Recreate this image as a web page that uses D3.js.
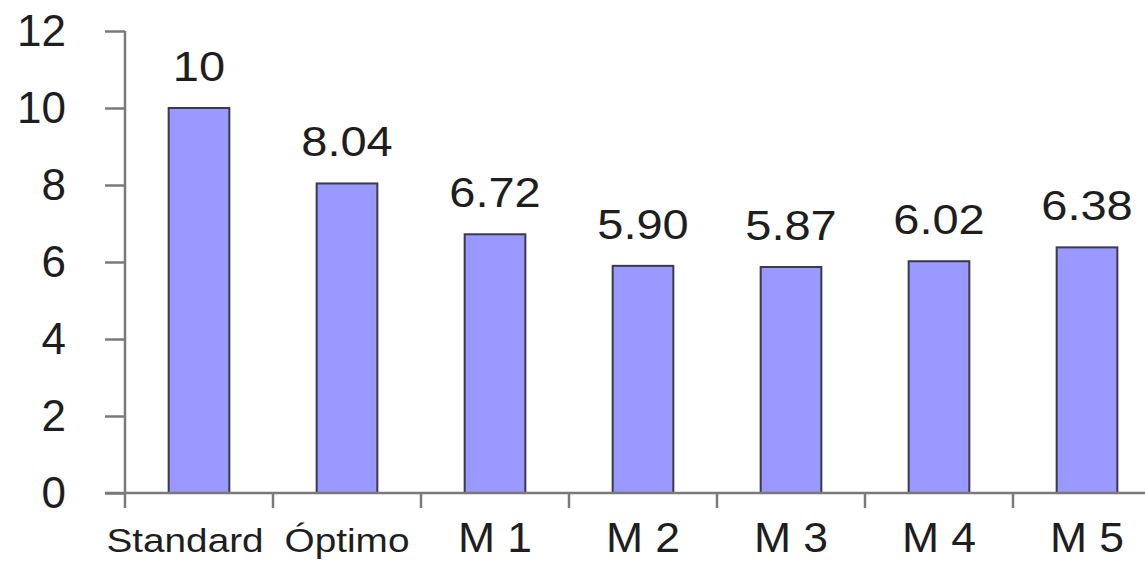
<!DOCTYPE html>
<html>
<head>
<meta charset="utf-8">
<script src="https://cdn.jsdelivr.net/npm/d3@7"></script>
<style>
  body { margin: 0; background: #fff; }
  text { font-family: "Liberation Sans", Arial, sans-serif; fill: #1e1e1e; }
</style>
</head>
<body>
<div id="chart"></div>
<script>
const categories = ["Standard", "Óptimo", "M 1", "M 2", "M 3", "M 4", "M 5"];
const values = [10, 8.04, 6.72, 5.90, 5.87, 6.02, 6.38];
const valueLabels = ["10", "8.04", "6.72", "5.90", "5.87", "6.02", "6.38"];
const yTicks = [0, 2, 4, 6, 8, 10, 12];

const width = 1145, height = 562;
const x0 = 125, step = 148, y0 = 493, yTop = 31;

const svg = d3.select("#chart").append("svg")
    .attr("width", width)
    .attr("height", height);

const x = d3.scaleBand()
    .domain(categories)
    .range([x0, x0 + step * categories.length])
    .padding(0);

const y = d3.scaleLinear().domain([0, 12]).range([y0, yTop]);

const barW = x.bandwidth() * 0.41;

// bars
svg.selectAll(".bar")
    .data(values)
    .enter().append("rect")
    .attr("class", "bar")
    .attr("x", (d, i) => x(categories[i]) + x.bandwidth() / 2 - barW / 2)
    .attr("y", d => y(d))
    .attr("width", barW)
    .attr("height", d => y(0) - y(d))
    .attr("fill", "#9999ff")
    .attr("stroke", "#3a3a4a")
    .attr("stroke-width", 2);

// value labels
svg.selectAll(".val")
    .data(values)
    .enter().append("text")
    .attr("class", "val")
    .attr("transform", (d, i) => "translate(" + (x(categories[i]) + x.bandwidth() / 2) + "," + (y(d) - 27) + ") scale(1.12,1)")
    .attr("text-anchor", "middle")
    .style("font-size", "42px")
    .text((d, i) => valueLabels[i]);

// y axis
const yAxis = svg.append("g")
    .attr("transform", "translate(" + x0 + ",0)")
    .call(d3.axisLeft(y).tickValues(yTicks).tickSize(20).tickPadding(39).tickFormat(d3.format("d")));
yAxis.select(".domain").remove();
yAxis.selectAll("line").attr("stroke", "#7a7a7a").attr("stroke-width", 2.5);
yAxis.selectAll("text")
    .style("font-size", "44px")
    .attr("fill", "#1e1e1e");
yAxis.append("line")
    .attr("x1", 0).attr("x2", 0)
    .attr("y1", yTop).attr("y2", y0 + 15)
    .attr("stroke", "#7a7a7a").attr("stroke-width", 2.5);

// x axis
const xAxis = svg.append("g");
xAxis.append("line")
    .attr("x1", x0 - 20).attr("x2", width)
    .attr("y1", y0).attr("y2", y0)
    .attr("stroke", "#7a7a7a").attr("stroke-width", 2.5);
xAxis.selectAll(".xt")
    .data(categories.slice(1))
    .enter().append("line")
    .attr("x1", d => x(d)).attr("x2", d => x(d))
    .attr("y1", y0).attr("y2", y0 + 15)
    .attr("stroke", "#7a7a7a").attr("stroke-width", 2.5);

xAxis.selectAll(".cat")
    .data(categories)
    .enter().append("text")
    .attr("class", "cat")
    .attr("transform", (d, i) => {
      const cx = x(d) + x.bandwidth() / 2 + (i === 0 ? -14 : 0);
      const s = i < 2 ? 1.14 : 1.06;
      return "translate(" + cx + ",552) scale(" + s + ",1)";
    })
    .attr("text-anchor", "middle")
    .style("font-size", (d, i) => i < 2 ? "34px" : "42px")
    .text(d => d);
</script>
</body>
</html>
